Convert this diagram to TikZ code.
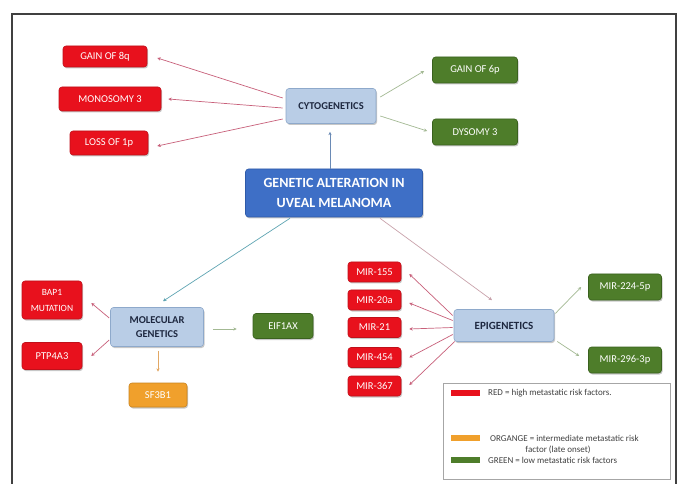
\documentclass[tikz,border=0pt]{standalone}
\usepackage{fontspec}
\setmainfont{Carlito}
\usetikzlibrary{calc,shadows,arrows.meta}
\definecolor{bred}{HTML}{E8111D}
\definecolor{bredd}{HTML}{C0101A}
\definecolor{bgreen}{HTML}{4E7D2A}
\definecolor{bgreend}{HTML}{3A611E}
\definecolor{borange}{HTML}{F0A02C}
\definecolor{borand}{HTML}{C98420}
\definecolor{blight}{HTML}{B9CDE6}
\definecolor{blightd}{HTML}{8EA9CB}
\definecolor{bmain}{HTML}{3E6FC6}
\definecolor{bmaind}{HTML}{2E5AA8}
\definecolor{lnred}{HTML}{C8607A}
\definecolor{lngreen}{HTML}{A3B993}
\definecolor{lnblue}{HTML}{6A8AB5}
\definecolor{lnteal}{HTML}{5FA5B3}
\definecolor{lnpink}{HTML}{C9A3AC}
\definecolor{lnorange}{HTML}{E2A865}
\definecolor{txtdark}{HTML}{1E2840}
\begin{document}
\begin{tikzpicture}[x=1pt,y=-1pt,
  box/.style={rounded corners=3pt, inner sep=1pt, align=center, line width=0.6pt,
    drop shadow={shadow xshift=1pt, shadow yshift=-1.5pt, opacity=0.22, fill=black}},
  redbox/.style={box, fill=bred, draw=bredd, text=white, font=\fontsize{10.5}{15}\selectfont},
  greenbox/.style={box, fill=bgreen, draw=bgreend, text=white, font=\fontsize{10.5}{13}\selectfont},
  orangebox/.style={box, fill=borange, draw=borand, text=white, font=\fontsize{10.5}{13}\selectfont},
  lightbox/.style={box, fill=blight, draw=blightd, text=txtdark, font=\bfseries\fontsize{10.5}{14}\selectfont},
  mainbox/.style={box, fill=bmain, draw=bmaind, text=white, font=\bfseries\fontsize{14}{20}\selectfont},
  conn/.style={line width=0.7pt, -{Stealth[length=3.4pt,width=3.4pt]}},
  legtext/.style={inner sep=0pt, text=black!75, font=\fontsize{9}{11}\selectfont},
  swatch/.style={inner sep=0pt, minimum width=29pt, minimum height=6pt}
]
\useasboundingbox (0,0) rectangle (681,484);
\fill[white] (0,0) rectangle (681,484);
\draw[line width=1.2pt, black!75] (12,484) -- (12,14) -- (676,14) -- (676,484);

% cytogenetics group
\node[redbox, minimum width=84pt, minimum height=21pt] (g8q) at (105,56.5) {GAIN OF 8q};
\node[redbox, minimum width=102pt, minimum height=24pt] (mono) at (110,99) {MONOSOMY 3};
\node[redbox, minimum width=78pt, minimum height=24pt] (loss) at (109,143) {LOSS OF 1p};
\node[lightbox, minimum width=90pt, minimum height=35pt] (cyto) at (331,106) {CYTOGENETICS};
\node[greenbox, minimum width=85pt, minimum height=26pt] (g6p) at (475,70) {GAIN OF 6p};
\node[greenbox, minimum width=85pt, minimum height=26pt] (dys) at (475,132) {DYSOMY 3};

% main
\node[mainbox, minimum width=177pt, minimum height=48pt] (main) at (334,193) {GENETIC ALTERATION IN\\UVEAL MELANOMA};

% molecular genetics group
\node[redbox, minimum width=60pt, minimum height=38pt, font=\fontsize{9.5}{16}\selectfont] (bap1) at (52,300) {BAP1\\MUTATION};
\node[redbox, minimum width=60pt, minimum height=27pt] (ptp) at (52,356) {PTP4A3};
\node[lightbox, minimum width=93pt, minimum height=39pt] (mol) at (157,327) {MOLECULAR\\GENETICS};
\node[greenbox, minimum width=60pt, minimum height=25pt] (eif) at (283,326) {EIF1AX};
\node[orangebox, minimum width=58pt, minimum height=24pt] (sf3) at (158,395) {SF3B1};

% epigenetics group
\node[redbox, minimum width=53pt, minimum height=20pt] (m155) at (374.5,272) {MIR-155};
\node[redbox, minimum width=53pt, minimum height=20pt] (m20a) at (374.5,300) {MIR-20a};
\node[redbox, minimum width=53pt, minimum height=20pt] (m21) at (374.5,327.5) {MIR-21};
\node[redbox, minimum width=53pt, minimum height=20pt] (m454) at (374.5,357.5) {MIR-454};
\node[redbox, minimum width=53pt, minimum height=20pt] (m367) at (374.5,386) {MIR-367};
\node[lightbox, minimum width=100pt, minimum height=32pt, font=\bfseries\fontsize{11}{14}\selectfont] (epi) at (504,325.5) {EPIGENETICS};
\node[greenbox, minimum width=73pt, minimum height=26pt] (m224) at (625,287) {MIR-224-5p};
\node[greenbox, minimum width=73pt, minimum height=26pt] (m296) at (625,360) {MIR-296-3p};

% connectors: cytogenetics
\draw[conn, lnred] ($(cyto.west)+(-3,-8)$) -- ($(g8q.east)+(10,1.5)$);
\draw[conn, lnred] ($(cyto.west)+(-3,2)$) -- ($(mono.east)+(7,0)$);
\draw[conn, lnred] ($(cyto.west)+(-3,13)$) -- ($(loss.east)+(9,3)$);
\draw[conn, lngreen] ($(cyto.east)+(4,-9)$) -- ($(g6p.west)+(-8,1)$);
\draw[conn, lngreen] ($(cyto.east)+(4,10)$) -- ($(dys.west)+(-5,-1)$);
% main connectors
\draw[conn, lnblue] ($(main.north)+(-4,0)$) -- ($(cyto.south)+(-1,8)$);
\draw[conn, lnteal] ($(main.south)+(-44,1)$) -- ($(mol.north)+(6,-6)$);
\draw[conn, lnpink] ($(main.south)+(46,1)$) -- ($(epi.north)+(-12,-9)$);
% molecular connectors
\draw[conn, lnred] ($(mol.west)+(-1,-9)$) -- ($(bap1.east)+(9,3)$);
\draw[conn, lnred] ($(mol.west)+(-1,13)$) -- ($(ptp.east)+(9,0)$);
\draw[conn, lngreen] ($(mol.east)+(9,2)$) -- ($(eif.west)+(-16,3)$);
\draw[conn, lnorange] ($(mol.south)+(1,4)$) -- ($(sf3.north)+(0,-11)$);
% epigenetics connectors
\draw[conn, lnred] ($(epi.west)+(-1,-10)$) -- ($(m155.east)+(8,2)$);
\draw[conn, lnred] ($(epi.west)+(-1,-5)$) -- ($(m20a.east)+(8,3)$);
\draw[conn, lnred] ($(epi.west)+(-1,2)$) -- ($(m21.east)+(8,1.5)$);
\draw[conn, lnred] ($(epi.west)+(-1,9)$) -- ($(m454.east)+(8,0)$);
\draw[conn, lnred] ($(epi.west)+(1,16)$) -- ($(m367.east)+(8,-1)$);
\draw[conn, lngreen] ($(epi.east)+(1,-12)$) -- ($(m224.west)+(-7,0)$);
\draw[conn, lngreen] ($(epi.east)+(3,16)$) -- ($(m296.west)+(-9,-4)$);

% legend
\node[draw=black!35, line width=0.6pt, fill=white, minimum width=227pt, minimum height=96pt, inner sep=0pt] (legend) at (556.5,431) {};
\node[swatch, fill=bred] (swr) at (465.5,393) {};
\node[swatch, fill=borange] (swo) at (465.5,438) {};
\node[swatch, fill=bgreen] (swg) at (465.5,460) {};
\node[legtext, anchor=west] (lr) at (488,393) {RED = high metastatic risk factors.};
\node[legtext, anchor=west] (lo) at (490,438) {ORGANGE = intermediate metastatic risk};
\node[legtext] (lo2) at (558,450) {factor (late onset)};
\node[legtext, anchor=west] (lg) at (488,460) {GREEN = low metastatic risk factors};
\end{tikzpicture}
\end{document}
